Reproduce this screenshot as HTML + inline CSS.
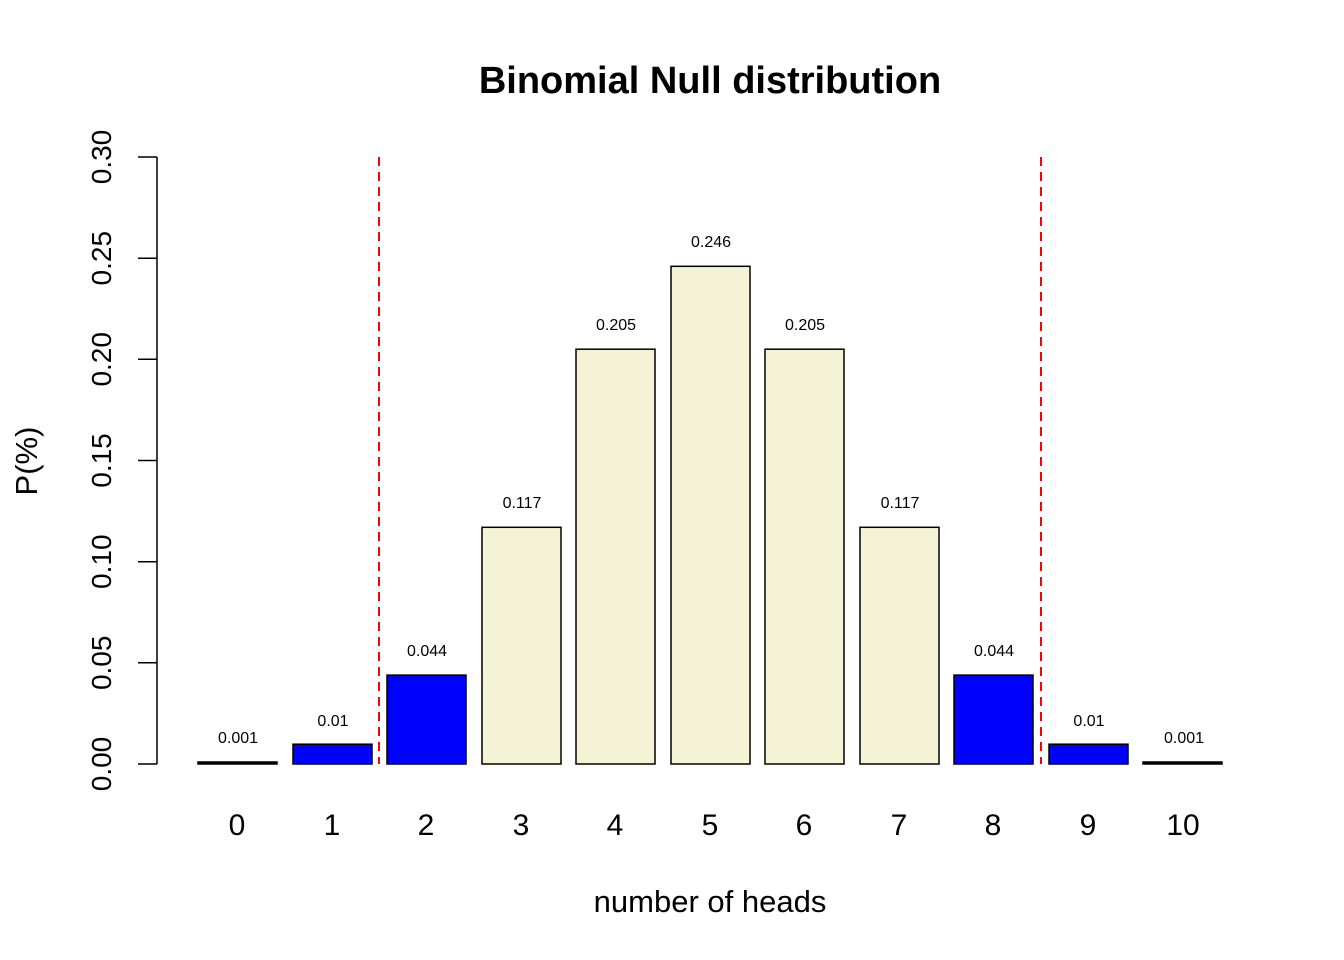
<!DOCTYPE html>
<html><head><style>body{margin:0;background:#fff}svg{display:block}</style></head>
<body>
<svg width="1344" height="960" xmlns="http://www.w3.org/2000/svg" font-family="Liberation Sans, Arial, sans-serif">
<text x="710" y="93" text-anchor="middle" font-size="38" font-weight="bold">Binomial Null distribution</text>
<g stroke="#000" stroke-width="1.5">
<line x1="157" y1="157" x2="157" y2="764"/>
<line x1="138" y1="157" x2="157" y2="157"/>
<line x1="138" y1="258.2" x2="157" y2="258.2"/>
<line x1="138" y1="359.3" x2="157" y2="359.3"/>
<line x1="138" y1="460.5" x2="157" y2="460.5"/>
<line x1="138" y1="561.7" x2="157" y2="561.7"/>
<line x1="138" y1="662.8" x2="157" y2="662.8"/>
<line x1="138" y1="764" x2="157" y2="764"/>
</g>
<g font-size="28" text-anchor="middle">
<text transform="translate(111,157) rotate(-90)">0.30</text>
<text transform="translate(111,258.2) rotate(-90)">0.25</text>
<text transform="translate(111,359.3) rotate(-90)">0.20</text>
<text transform="translate(111,460.5) rotate(-90)">0.15</text>
<text transform="translate(111,561.7) rotate(-90)">0.10</text>
<text transform="translate(111,662.8) rotate(-90)">0.05</text>
<text transform="translate(111,764) rotate(-90)">0.00</text>
</g>
<g font-size="31" text-anchor="middle">
<text transform="translate(37,461) rotate(-90)">P(%)</text>
<text x="710" y="912">number of heads</text>
</g>
<g stroke="#000" stroke-width="1.5">
<rect x="198" y="762" width="79" height="2" fill="#000"/>
<rect x="293" y="744.2" width="79" height="19.8" fill="#0000ff"/>
<rect x="387" y="675.1" width="79" height="88.9" fill="#0000ff"/>
<rect x="482" y="527.3" width="79" height="236.7" fill="#f5f3d5"/>
<rect x="576" y="349.2" width="79" height="414.8" fill="#f5f3d5"/>
<rect x="671" y="266.3" width="79" height="497.7" fill="#f5f3d5"/>
<rect x="765" y="349.2" width="79" height="414.8" fill="#f5f3d5"/>
<rect x="860" y="527.3" width="79" height="236.7" fill="#f5f3d5"/>
<rect x="954" y="675.1" width="79" height="88.9" fill="#0000ff"/>
<rect x="1049" y="744.2" width="79" height="19.8" fill="#0000ff"/>
<rect x="1143" y="762" width="79" height="2" fill="#000"/>
</g>
<g stroke="#ff0000" stroke-width="2" stroke-dasharray="9,6">
<line x1="379" y1="157" x2="379" y2="764"/>
<line x1="1041" y1="157" x2="1041" y2="764"/>
</g>
<g font-size="16" text-anchor="middle">
<text x="238" y="743">0.001</text>
<text x="333" y="726">0.01</text>
<text x="427" y="656">0.044</text>
<text x="522" y="508">0.117</text>
<text x="616" y="330">0.205</text>
<text x="711" y="247">0.246</text>
<text x="805" y="330">0.205</text>
<text x="900" y="508">0.117</text>
<text x="994" y="656">0.044</text>
<text x="1089" y="726">0.01</text>
<text x="1184" y="743">0.001</text>
</g>
<g font-size="30" text-anchor="middle">
<text x="237" y="835">0</text><text x="332" y="835">1</text><text x="426" y="835">2</text>
<text x="521" y="835">3</text><text x="615" y="835">4</text><text x="710" y="835">5</text>
<text x="804" y="835">6</text><text x="899" y="835">7</text><text x="993" y="835">8</text>
<text x="1088" y="835">9</text><text x="1183" y="835">10</text>
</g>
</svg>
</body></html>
